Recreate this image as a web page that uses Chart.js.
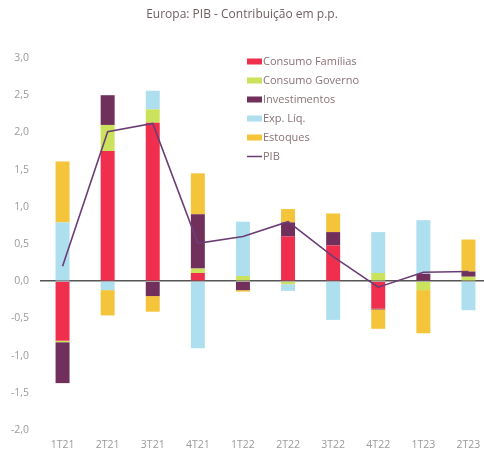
<!DOCTYPE html>
<html>
<head>
<meta charset="utf-8">
<script src="https://cdn.jsdelivr.net/npm/chart.js@4.4.0/dist/chart.umd.min.js"></script>
<style>
  html, body { margin: 0; padding: 0; background: #fff; overflow: hidden; }
  #wrap { width: 484px; height: 451px; overflow: hidden; }
</style>
</head>
<body>
<div id="wrap"><canvas id="pibChart" width="492" height="451"></canvas></div>
<script>
var quarters = ["1T21", "2T21", "3T21", "4T21", "1T22", "2T22", "3T22", "4T22", "1T23", "2T23"];
var familias = [-0.80, 1.75, 2.13, 0.11, 0, 0.60, 0.48, -0.37, 0, 0];
var governo = [-0.02, 0.35, 0.18, 0.06, 0.07, -0.04, 0, 0.11, -0.12, 0.06];
var investimentos = [-0.55, 0.40, -0.20, 0.73, -0.12, 0.19, 0.18, -0.01, 0.10, 0.07];
var expLiq = [0.79, -0.12, 0.25, -0.90, 0.73, -0.09, -0.52, 0.55, 0.72, -0.39];
var estoques = [0.82, -0.34, -0.21, 0.55, -0.02, 0.18, 0.25, -0.26, -0.58, 0.43];
var pib = [0.20, 2.01, 2.12, 0.51, 0.60, 0.80, 0.33, -0.08, 0.12, 0.13];

var barColors = ["#EF2F4D", "#CBE25C", "#71305C", "#AEDFEE", "#F4C43A"];
var pibColor = "#6C3D74";
var textColor = "#8a7276";

// title + legend drawn by hand, like the original picture
var decor = {
  id: "decor",
  afterDraw: function(chart) {
    var ctx = chart.ctx;
    ctx.save();
    ctx.font = "12px 'Open Sans'";
    ctx.fillStyle = "#6e5e60";
    ctx.textAlign = "center";
    ctx.textBaseline = "middle";
    ctx.fillText("Europa: PIB - Contribuição em p.p.", 242, 15);

    ctx.font = "11px 'Open Sans'";
    ctx.textAlign = "left";
    var y = 61.5;
    chart.data.datasets.forEach(function(ds) {
      if (ds.type === "line") {
        ctx.strokeStyle = ds.borderColor;
        ctx.lineWidth = 1.5;
        ctx.beginPath();
        ctx.moveTo(247, y);
        ctx.lineTo(262, y);
        ctx.stroke();
      } else {
        ctx.fillStyle = ds.backgroundColor;
        ctx.fillRect(247, y - 3, 15, 6);
      }
      ctx.fillStyle = textColor;
      ctx.fillText(ds.label, 263, y);
      y += 19;
    });
    ctx.restore();
  }
};

var labels = ["Consumo Famílias", "Consumo Governo", "Investimentos", "Exp. Líq.", "Estoques"];
var series = [familias, governo, investimentos, expLiq, estoques];
var datasets = series.map(function(d, i) {
  return {
    type: "bar",
    label: labels[i],
    data: d,
    backgroundColor: barColors[i],
    borderWidth: 0,
    categoryPercentage: 1,
    barPercentage: 0.31,
    order: 1
  };
});
datasets.push({
  type: "line",
  label: "PIB",
  data: pib,
  borderColor: pibColor,
  borderWidth: 1.6,
  pointRadius: 0,
  tension: 0,
  fill: false,
  stack: "pib",
  order: 0
});

new Chart("pibChart", {
  data: { labels: quarters, datasets: datasets },
  plugins: [decor],
  options: {
    responsive: false,
    animation: false,
    devicePixelRatio: 1,
    layout: { padding: { top: 58, right: 1, bottom: 0, left: 0 } },
    plugins: {
      legend: { display: false },
      title: { display: false },
      tooltip: { enabled: false }
    },
    scales: {
      x: {
        stacked: true,
        grid: { display: false },
        border: { display: false },
        ticks: { color: "#9a9a9a", font: { family: "'Open Sans'", size: 10.5 }, padding: 1, maxRotation: 0 },
        afterFit: function(s) { s.height = 21; }
      },
      y: {
        stacked: true,
        min: -2,
        max: 3,
        border: { display: false },
        grid: {
          drawTicks: false,
          color: function(c) { return c.tick && c.tick.value === 0 ? "#555555" : "rgba(0,0,0,0)"; },
          lineWidth: 1.5
        },
        ticks: {
          stepSize: 0.5,
          color: "#9a9a9a",
          font: { family: "'Open Sans'", size: 10.5 },
          padding: 11,
          callback: function(v) { return v.toFixed(1).replace(".", ","); }
        },
        afterFit: function(s) { s.width = 40; }
      }
    }
  }
});
</script>
</body>
</html>
